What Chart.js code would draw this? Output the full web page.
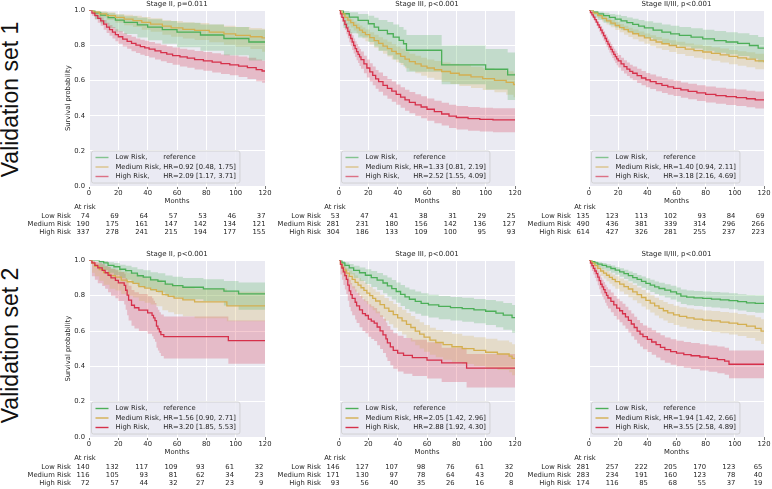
<!DOCTYPE html>
<html><head><meta charset="utf-8">
<script src="https://cdn.jsdelivr.net/npm/chart.js@4/dist/chart.umd.min.js"></script>
<style>
html,body{margin:0;padding:0;background:#fff;width:772px;height:489px;overflow:hidden;position:relative;}
canvas{position:absolute;}
.rowlab{position:absolute;width:220px;height:23px;line-height:23px;font-family:'Liberation Sans',Arial,sans-serif;font-size:23px;color:#111;text-align:center;transform:rotate(-90deg);white-space:nowrap;}
</style></head><body>
<div class="rowlab" style="left:-100.5px;top:87.5px">Validation set 1</div>
<div class="rowlab" style="left:-100.5px;top:333.5px">Validation set 2</div>
<canvas id="c1"></canvas><canvas id="c2"></canvas><canvas id="c3"></canvas>
<canvas id="c4"></canvas><canvas id="c5"></canvas><canvas id="c6"></canvas>
<script>
// ---------------- DATA ----------------
const tickMonths = [0, 20, 40, 60, 80, 100, 120];
const riskGroups = ['Low Risk', 'Medium Risk', 'High Risk'];
const panelTitles = ['Stage II, p=0.011', 'Stage III, p<0.001', 'Stage II/III, p<0.001',
                     'Stage II, p<0.001', 'Stage III, p<0.001', 'Stage II/III, p<0.001'];
const lowRef = 'reference';
const hrMedium = ['HR=0.92 [0.48, 1.75]', 'HR=1.33 [0.81, 2.19]', 'HR=1.40 [0.94, 2.11]',
                  'HR=1.56 [0.90, 2.71]', 'HR=2.05 [1.42, 2.96]', 'HR=1.94 [1.42, 2.66]'];
const hrHigh = ['HR=2.09 [1.17, 3.71]', 'HR=2.52 [1.55, 4.09]', 'HR=3.18 [2.16, 4.69]',
                'HR=3.20 [1.85, 5.53]', 'HR=2.88 [1.92, 4.30]', 'HR=3.55 [2.58, 4.89]'];

// at-risk counts [low, medium, high] at tickMonths
const atRisk1 = [[74,69,64,57,53,46,37],[190,175,161,147,142,134,121],[337,278,241,215,194,177,155]];
const atRisk2 = [[53,47,41,38,31,29,25],[281,231,180,156,142,136,127],[304,186,133,109,100,95,93]];
const atRisk3 = [[135,123,113,102,93,84,69],[490,436,381,339,314,296,266],[614,427,326,281,255,237,223]];
const atRisk4 = [[140,132,117,109,93,61,32],[116,105,93,81,62,34,23],[72,57,44,32,27,23,9]];
const atRisk5 = [[146,127,107,98,76,61,32],[171,130,97,78,64,43,20],[93,56,40,35,26,16,8]];
const atRisk6 = [[281,257,222,205,170,123,65],[283,234,191,160,123,78,40],[174,116,85,68,55,37,19]];

// Kaplan-Meier curves: [month, survival, lower CI, upper CI]
const km1Low = [[0,1,1,1],[4,0.986,0.95,0.998],[8,0.973,0.925,0.99],[13,0.959,0.9,0.984],[18,0.945,0.88,0.975],[24,0.932,0.865,0.967],[33,0.918,0.845,0.958],[40,0.905,0.83,0.95],[50,0.89,0.81,0.94],[60,0.876,0.79,0.93],[76,0.86,0.77,0.92],[92,0.84,0.745,0.905],[109,0.82,0.715,0.89],[120,0.82,0.715,0.89]];
const km1Med = [[0,1,1,1],[3,0.99,0.975,1],[7,0.98,0.96,0.995],[12,0.97,0.945,0.99],[18,0.96,0.93,0.98],[24,0.95,0.915,0.975],[30,0.942,0.905,0.97],[36,0.932,0.89,0.962],[42,0.922,0.878,0.955],[50,0.91,0.862,0.945],[56,0.9,0.85,0.94],[64,0.892,0.84,0.933],[72,0.886,0.832,0.928],[82,0.876,0.818,0.92],[92,0.866,0.805,0.912],[100,0.858,0.793,0.906],[110,0.85,0.78,0.9],[118,0.843,0.765,0.895],[120,0.843,0.765,0.895]];
const km1High = [[0,1,1,1],[2,0.985,0.97,0.995],[4,0.97,0.95,0.985],[6,0.955,0.93,0.972],[8,0.94,0.912,0.96],[10,0.922,0.89,0.945],[12,0.905,0.872,0.93],[14,0.89,0.855,0.917],[16,0.876,0.84,0.905],[18,0.862,0.824,0.892],[20,0.85,0.81,0.882],[23,0.836,0.795,0.87],[26,0.824,0.782,0.86],[29,0.812,0.768,0.85],[32,0.802,0.757,0.84],[35,0.794,0.748,0.833],[38,0.787,0.74,0.827],[41,0.78,0.732,0.82],[45,0.77,0.72,0.812],[49,0.76,0.71,0.804],[53,0.751,0.7,0.796],[57,0.743,0.69,0.789],[62,0.735,0.681,0.782],[67,0.728,0.673,0.776],[72,0.72,0.664,0.769],[78,0.713,0.656,0.763],[84,0.705,0.647,0.756],[90,0.697,0.638,0.749],[96,0.69,0.63,0.743],[102,0.683,0.621,0.737],[108,0.674,0.61,0.73],[114,0.663,0.597,0.72],[118,0.655,0.588,0.713],[120,0.655,0.588,0.713]];

const km2Low = [[0,1,1,1],[3,0.981,0.9,0.997],[7,0.962,0.87,0.99],[13,0.943,0.845,0.98],[20,0.924,0.82,0.97],[24,0.905,0.795,0.958],[27,0.886,0.77,0.946],[33,0.867,0.745,0.934],[37,0.848,0.72,0.92],[41,0.829,0.7,0.905],[44,0.81,0.68,0.89],[46,0.773,0.65,0.86],[70,0.69,0.58,0.8],[100,0.665,0.55,0.78],[115,0.633,0.49,0.76],[120,0.633,0.49,0.76]];
const km2Med = [[0,1,1,1],[2,0.98,0.965,0.99],[4,0.96,0.94,0.975],[6,0.945,0.92,0.962],[8,0.93,0.903,0.95],[10,0.915,0.885,0.937],[12,0.9,0.868,0.925],[14,0.888,0.854,0.914],[16,0.875,0.84,0.903],[18,0.862,0.825,0.891],[21,0.845,0.806,0.876],[24,0.828,0.787,0.861],[27,0.812,0.77,0.847],[30,0.797,0.753,0.834],[33,0.782,0.737,0.821],[36,0.767,0.72,0.807],[39,0.753,0.705,0.795],[42,0.738,0.689,0.781],[45,0.722,0.671,0.766],[48,0.708,0.656,0.753],[52,0.695,0.642,0.742],[56,0.683,0.628,0.731],[60,0.672,0.616,0.721],[65,0.662,0.605,0.712],[70,0.652,0.593,0.704],[76,0.642,0.581,0.696],[82,0.632,0.57,0.687],[90,0.622,0.558,0.679],[98,0.612,0.546,0.671],[106,0.602,0.534,0.663],[114,0.59,0.52,0.653],[119,0.578,0.505,0.643],[120,0.578,0.505,0.643]];
const km2High = [[0,1,1,1],[1,0.98,0.962,0.99],[2,0.96,0.936,0.975],[3,0.94,0.912,0.96],[4,0.92,0.888,0.944],[5,0.9,0.864,0.928],[6,0.88,0.841,0.911],[7,0.86,0.819,0.894],[8,0.84,0.797,0.876],[9,0.82,0.775,0.858],[10,0.8,0.754,0.84],[11,0.782,0.735,0.824],[12,0.765,0.716,0.808],[13,0.75,0.7,0.794],[14,0.735,0.684,0.78],[15,0.72,0.668,0.766],[17,0.695,0.642,0.742],[19,0.672,0.618,0.72],[21,0.65,0.595,0.699],[23,0.63,0.574,0.68],[25,0.61,0.554,0.661],[27,0.594,0.537,0.646],[30,0.573,0.515,0.626],[33,0.556,0.497,0.61],[36,0.54,0.48,0.595],[39,0.522,0.462,0.578],[42,0.506,0.445,0.563],[45,0.49,0.428,0.548],[48,0.476,0.414,0.535],[52,0.462,0.399,0.522],[56,0.45,0.386,0.511],[60,0.437,0.372,0.499],[65,0.423,0.357,0.486],[70,0.41,0.344,0.474],[75,0.398,0.331,0.462],[80,0.39,0.322,0.455],[88,0.384,0.315,0.45],[96,0.379,0.31,0.446],[105,0.376,0.306,0.443],[120,0.376,0.306,0.443]];

const km3Low = [[0,1,1,1],[3,0.99,0.96,0.998],[6,0.98,0.945,0.993],[10,0.97,0.93,0.987],[14,0.96,0.915,0.98],[18,0.95,0.903,0.975],[22,0.94,0.89,0.968],[26,0.93,0.878,0.96],[30,0.92,0.867,0.953],[34,0.91,0.855,0.946],[38,0.9,0.843,0.938],[44,0.888,0.83,0.93],[50,0.876,0.815,0.92],[56,0.866,0.803,0.912],[62,0.858,0.794,0.906],[70,0.848,0.783,0.898],[78,0.838,0.77,0.89],[86,0.828,0.759,0.882],[94,0.82,0.75,0.876],[102,0.812,0.74,0.87],[110,0.8,0.725,0.86],[116,0.785,0.705,0.848],[120,0.785,0.705,0.848]];
const km3Med = [[0,1,1,1],[3,0.985,0.975,0.992],[6,0.97,0.956,0.98],[9,0.955,0.937,0.968],[12,0.94,0.919,0.956],[15,0.927,0.904,0.945],[18,0.914,0.889,0.934],[21,0.902,0.875,0.923],[24,0.89,0.862,0.912],[27,0.878,0.848,0.901],[30,0.867,0.836,0.891],[34,0.855,0.823,0.88],[38,0.843,0.81,0.869],[42,0.831,0.797,0.858],[46,0.82,0.785,0.848],[50,0.81,0.774,0.839],[55,0.8,0.763,0.83],[60,0.79,0.752,0.821],[66,0.78,0.741,0.812],[72,0.771,0.731,0.804],[78,0.763,0.722,0.797],[84,0.755,0.713,0.79],[90,0.747,0.704,0.783],[96,0.738,0.694,0.775],[102,0.73,0.685,0.768],[108,0.722,0.676,0.761],[114,0.713,0.665,0.753],[120,0.705,0.655,0.746]];
const km3High = [[0,1,1,1],[1,0.988,0.98,0.994],[2,0.975,0.963,0.984],[3,0.962,0.947,0.973],[4,0.948,0.93,0.962],[5,0.933,0.913,0.95],[6,0.918,0.896,0.936],[7,0.903,0.879,0.923],[8,0.888,0.862,0.91],[9,0.872,0.845,0.896],[10,0.856,0.827,0.881],[11,0.84,0.81,0.866],[12,0.824,0.793,0.851],[13,0.808,0.776,0.836],[14,0.793,0.76,0.822],[15,0.778,0.744,0.808],[16,0.764,0.729,0.795],[17,0.75,0.715,0.782],[18,0.737,0.701,0.77],[19,0.724,0.688,0.758],[20,0.712,0.675,0.746],[22,0.695,0.657,0.73],[24,0.68,0.641,0.716],[26,0.666,0.627,0.703],[28,0.653,0.613,0.691],[30,0.642,0.602,0.681],[33,0.628,0.587,0.667],[36,0.615,0.574,0.655],[39,0.604,0.562,0.644],[42,0.594,0.552,0.635],[46,0.583,0.54,0.624],[50,0.573,0.53,0.615],[54,0.564,0.52,0.606],[58,0.556,0.512,0.599],[63,0.547,0.502,0.59],[68,0.539,0.494,0.583],[74,0.53,0.484,0.574],[80,0.522,0.475,0.566],[87,0.515,0.468,0.56],[94,0.509,0.461,0.554],[101,0.503,0.455,0.549],[108,0.497,0.448,0.543],[114,0.491,0.442,0.538],[120,0.488,0.438,0.535]];

const km4Low = [[0,1,1,1],[7,0.993,0.95,0.999],[10,0.986,0.945,0.996],[13,0.972,0.93,0.99],[17,0.964,0.918,0.985],[21,0.95,0.9,0.976],[25,0.942,0.89,0.97],[29,0.928,0.872,0.961],[33,0.913,0.855,0.95],[37,0.905,0.845,0.944],[42,0.89,0.828,0.933],[47,0.882,0.818,0.927],[52,0.866,0.8,0.914],[57,0.857,0.79,0.907],[64,0.848,0.78,0.9],[78,0.839,0.77,0.893],[92,0.826,0.745,0.883],[102,0.81,0.72,0.875],[120,0.81,0.72,0.875]];
const km4Med = [[0,1,1,1],[2,0.983,0.93,0.996],[4,0.966,0.91,0.988],[7,0.948,0.885,0.977],[10,0.931,0.862,0.966],[14,0.914,0.84,0.953],[18,0.905,0.83,0.948],[22,0.888,0.81,0.936],[26,0.879,0.8,0.93],[30,0.87,0.79,0.923],[34,0.852,0.77,0.91],[38,0.843,0.76,0.903],[42,0.834,0.75,0.896],[46,0.825,0.74,0.89],[50,0.806,0.718,0.873],[54,0.796,0.707,0.866],[58,0.786,0.695,0.857],[64,0.776,0.684,0.849],[72,0.765,0.672,0.84],[94,0.742,0.655,0.822],[120,0.742,0.655,0.822]];
const km4High = [[0,1,1,1],[2,0.986,0.91,0.998],[4,0.972,0.89,0.993],[6,0.958,0.87,0.986],[9,0.944,0.855,0.98],[11,0.93,0.84,0.97],[13,0.916,0.82,0.962],[15,0.901,0.8,0.953],[18,0.887,0.785,0.944],[20,0.873,0.77,0.935],[24,0.859,0.75,0.925],[25,0.831,0.72,0.9],[26,0.803,0.69,0.88],[27,0.775,0.66,0.857],[29,0.746,0.63,0.833],[31,0.732,0.615,0.82],[34,0.718,0.6,0.81],[40,0.703,0.585,0.797],[43,0.689,0.57,0.785],[44,0.674,0.555,0.772],[45,0.659,0.54,0.759],[46,0.628,0.505,0.735],[47,0.612,0.49,0.72],[48,0.596,0.475,0.707],[49,0.58,0.458,0.693],[51,0.568,0.445,0.683],[95,0.546,0.415,0.66],[120,0.546,0.415,0.66]];

const km5Low = [[0,1,1,1],[2,0.986,0.96,0.996],[4,0.972,0.94,0.988],[7,0.958,0.92,0.979],[10,0.944,0.9,0.97],[14,0.93,0.883,0.96],[18,0.916,0.866,0.95],[22,0.902,0.849,0.94],[26,0.888,0.832,0.929],[30,0.872,0.814,0.916],[33,0.856,0.796,0.903],[36,0.84,0.778,0.889],[39,0.824,0.76,0.875],[42,0.808,0.742,0.861],[45,0.793,0.725,0.847],[48,0.78,0.711,0.835],[52,0.768,0.698,0.824],[56,0.757,0.686,0.814],[61,0.748,0.676,0.806],[68,0.74,0.667,0.799],[76,0.733,0.659,0.793],[84,0.727,0.652,0.788],[92,0.72,0.644,0.782],[100,0.712,0.634,0.776],[107,0.702,0.622,0.768],[112,0.69,0.607,0.759],[118,0.676,0.59,0.748],[120,0.676,0.59,0.748]];
const km5Med = [[0,1,1,1],[1,0.98,0.955,0.992],[2,0.962,0.93,0.98],[3,0.945,0.908,0.968],[5,0.928,0.886,0.955],[7,0.91,0.864,0.941],[9,0.893,0.843,0.928],[11,0.876,0.822,0.914],[13,0.86,0.804,0.901],[15,0.845,0.786,0.888],[17,0.83,0.769,0.875],[19,0.815,0.752,0.862],[21,0.8,0.735,0.849],[23,0.785,0.718,0.836],[25,0.77,0.701,0.823],[28,0.75,0.679,0.805],[31,0.73,0.658,0.787],[34,0.712,0.638,0.77],[37,0.693,0.618,0.753],[40,0.675,0.599,0.736],[43,0.657,0.58,0.72],[46,0.638,0.56,0.702],[49,0.62,0.541,0.685],[52,0.6,0.52,0.667],[55,0.582,0.501,0.65],[58,0.565,0.483,0.634],[62,0.549,0.466,0.619],[66,0.535,0.451,0.606],[71,0.523,0.438,0.595],[77,0.511,0.425,0.584],[84,0.5,0.413,0.574],[92,0.49,0.402,0.565],[100,0.48,0.391,0.556],[108,0.47,0.38,0.547],[116,0.458,0.366,0.537],[118,0.445,0.35,0.525],[120,0.445,0.35,0.525]];
const km5High = [[0,1,1,1],[1,0.978,0.92,0.995],[2,0.957,0.89,0.984],[3,0.935,0.86,0.97],[4,0.914,0.835,0.955],[5,0.892,0.81,0.94],[6,0.86,0.772,0.915],[7,0.828,0.736,0.89],[8,0.806,0.712,0.872],[9,0.785,0.69,0.854],[11,0.763,0.666,0.835],[12,0.742,0.645,0.817],[14,0.72,0.622,0.798],[16,0.699,0.6,0.78],[18,0.688,0.588,0.77],[20,0.667,0.567,0.751],[22,0.656,0.555,0.741],[24,0.645,0.543,0.731],[26,0.623,0.52,0.711],[28,0.601,0.498,0.69],[30,0.578,0.475,0.67],[32,0.556,0.452,0.649],[33,0.533,0.43,0.628],[35,0.51,0.406,0.607],[37,0.49,0.386,0.588],[40,0.475,0.371,0.574],[44,0.462,0.358,0.561],[50,0.45,0.346,0.55],[60,0.435,0.331,0.536],[70,0.42,0.312,0.505],[87,0.39,0.28,0.47],[120,0.39,0.28,0.47]];

const km6Low = [[0,1,1,1],[2,0.993,0.98,0.998],[4,0.986,0.97,0.994],[6,0.979,0.96,0.99],[9,0.972,0.95,0.985],[12,0.963,0.94,0.978],[15,0.954,0.93,0.971],[18,0.945,0.919,0.963],[21,0.935,0.907,0.955],[24,0.925,0.895,0.947],[27,0.914,0.882,0.937],[30,0.903,0.87,0.928],[33,0.892,0.857,0.918],[36,0.881,0.845,0.909],[39,0.87,0.832,0.899],[42,0.86,0.821,0.89],[45,0.85,0.81,0.881],[48,0.841,0.8,0.873],[52,0.832,0.79,0.865],[56,0.822,0.779,0.856],[60,0.81,0.766,0.846],[63,0.798,0.753,0.835],[67,0.792,0.746,0.83],[72,0.788,0.742,0.827],[78,0.785,0.738,0.824],[84,0.781,0.734,0.821],[90,0.777,0.729,0.818],[96,0.772,0.723,0.814],[102,0.766,0.716,0.809],[108,0.76,0.708,0.804],[114,0.757,0.704,0.802],[120,0.757,0.704,0.802]];
const km6Med = [[0,1,1,1],[2,0.985,0.97,0.993],[4,0.97,0.95,0.983],[6,0.955,0.931,0.972],[8,0.94,0.912,0.96],[10,0.928,0.897,0.95],[12,0.916,0.882,0.94],[14,0.904,0.868,0.93],[16,0.892,0.854,0.92],[18,0.88,0.84,0.91],[21,0.866,0.824,0.898],[24,0.852,0.808,0.886],[27,0.838,0.792,0.874],[30,0.822,0.774,0.86],[33,0.806,0.757,0.846],[36,0.79,0.739,0.832],[39,0.774,0.722,0.817],[42,0.758,0.705,0.803],[45,0.742,0.688,0.789],[48,0.728,0.673,0.776],[51,0.715,0.659,0.764],[54,0.703,0.646,0.753],[58,0.692,0.634,0.743],[62,0.683,0.624,0.735],[67,0.675,0.615,0.728],[72,0.668,0.607,0.722],[78,0.662,0.6,0.717],[84,0.657,0.594,0.713],[90,0.651,0.587,0.708],[96,0.645,0.58,0.703],[102,0.638,0.572,0.697],[108,0.628,0.56,0.689],[114,0.615,0.545,0.678],[118,0.6,0.527,0.667],[120,0.6,0.527,0.667]];
const km6High = [[0,1,1,1],[1,0.985,0.96,0.995],[2,0.97,0.94,0.986],[3,0.955,0.92,0.975],[4,0.94,0.9,0.964],[5,0.925,0.882,0.953],[6,0.905,0.859,0.937],[7,0.885,0.836,0.92],[8,0.865,0.813,0.903],[9,0.85,0.796,0.89],[10,0.835,0.779,0.877],[11,0.818,0.76,0.862],[12,0.802,0.743,0.848],[13,0.787,0.727,0.835],[15,0.768,0.707,0.818],[17,0.748,0.685,0.8],[19,0.73,0.666,0.783],[21,0.715,0.65,0.769],[23,0.698,0.632,0.754],[25,0.68,0.613,0.737],[27,0.66,0.592,0.718],[29,0.64,0.571,0.7],[31,0.62,0.55,0.681],[33,0.6,0.53,0.662],[35,0.583,0.512,0.646],[37,0.568,0.497,0.632],[40,0.553,0.481,0.618],[43,0.538,0.466,0.604],[46,0.523,0.45,0.59],[49,0.508,0.435,0.576],[52,0.495,0.421,0.564],[56,0.483,0.409,0.553],[60,0.475,0.4,0.545],[65,0.467,0.392,0.538],[70,0.46,0.385,0.532],[76,0.453,0.377,0.525],[82,0.445,0.369,0.518],[88,0.438,0.361,0.512],[93,0.43,0.353,0.505],[96,0.412,0.333,0.49],[120,0.412,0.333,0.49]];

// ---------------- RENDER ----------------
const FONT = "'DejaVu Sans', sans-serif";
const FS = 6.8;
Chart.defaults.font.family = FONT;
Chart.defaults.font.size = FS;
Chart.defaults.color = '#262626';

const RGB = [[76,175,88],[212,175,80],[214,48,74]];
const rgba = (c, a) => `rgba(${c[0]},${c[1]},${c[2]},${a})`;

const panels = [
  {id:'c1', curves:[km1Low,km1Med,km1High], risk:atRisk1, col:0, row:0},
  {id:'c2', curves:[km2Low,km2Med,km2High], risk:atRisk2, col:1, row:0},
  {id:'c3', curves:[km3Low,km3Med,km3High], risk:atRisk3, col:2, row:0},
  {id:'c4', curves:[km4Low,km4Med,km4High], risk:atRisk4, col:0, row:1},
  {id:'c5', curves:[km5Low,km5Med,km5High], risk:atRisk5, col:1, row:1},
  {id:'c6', curves:[km6Low,km6Med,km6High], risk:atRisk6, col:2, row:1}
];
// canvas left, width, right padding; y-axis box is 69px wide
const YW = 69;
const colGeom = [{left:20,w:259,padR:14},{left:270,w:259,padR:14},{left:520,w:254,padR:10}];
const rowGeom = [{top:0,h:245,padB:39,legendAlpha:0.65},{top:250,h:239,padB:32,legendAlpha:1}];

function decorPlugin(pi, risk, legendAlpha) {
  return {
    id: 'decor' + pi,
    beforeDraw(chart) {
      const {ctx, chartArea: a} = chart;
      ctx.save();
      ctx.fillStyle = '#EAEAF2';
      ctx.fillRect(a.left, a.top, a.right - a.left, a.bottom - a.top);
      ctx.restore();
    },
    afterDraw(chart) {
      const {ctx, chartArea: a} = chart;
      const xs = chart.scales.x;
      ctx.save();
      ctx.font = FS + 'px ' + FONT;
      // legend
      const prefixW = ctx.measureText('Medium Risk, ').width;
      const rows = [[riskGroups[0] + ',', lowRef], [riskGroups[1] + ',', hrMedium[pi]], [riskGroups[2] + ',', hrHigh[pi]]];
      let sw = 0;
      rows.forEach(r => { sw = Math.max(sw, ctx.measureText(r[1]).width); });
      const bx = a.left + 2.5, by = a.bottom - 35, bh = 32, bw = 24 + prefixW + sw + 4;
      ctx.beginPath();
      ctx.roundRect(bx, by, bw, bh, 2);
      ctx.fillStyle = 'rgba(234,234,242,0.8)';
      ctx.fill();
      ctx.lineWidth = 0.8;
      ctx.strokeStyle = '#cccccc';
      ctx.stroke();
      rows.forEach((r, i) => {
        const y = by + 6.5 + i * 9.5;
        ctx.beginPath();
        ctx.moveTo(bx + 4, y); ctx.lineTo(bx + 17, y);
        ctx.strokeStyle = rgba(RGB[i], legendAlpha);
        ctx.lineWidth = 1.4;
        ctx.stroke();
        ctx.fillStyle = '#262626';
        ctx.textAlign = 'left'; ctx.textBaseline = 'middle';
        ctx.fillText(r[0], bx + 24, y);
        ctx.fillText(r[1], bx + 24 + prefixW, y);
      });
      // at-risk table
      const x0 = xs.getPixelForValue(tickMonths[0]);
      ctx.fillStyle = '#262626';
      ctx.textBaseline = 'middle';
      ctx.textAlign = 'center';
      ctx.fillText('At risk', x0 - 4, a.bottom + 21.5);
      riskGroups.forEach((g, i) => {
        ctx.textAlign = 'right';
        ctx.fillText(g, x0 - 18, a.bottom + 30.5 + i * 8);
      });
      tickMonths.forEach((t, j) => {
        const px = xs.getPixelForValue(t);
        let mw = 0;
        risk.forEach(r => { mw = Math.max(mw, ctx.measureText(String(r[j])).width); });
        const right = px - 6 + mw / 2;
        risk.forEach((r, i) => {
          ctx.textAlign = 'right';
          ctx.fillText(String(r[j]), right, a.bottom + 30.5 + i * 8);
        });
      });
      ctx.restore();
    }
  };
}

panels.forEach((p, pi) => {
  const cg = colGeom[p.col], rg = rowGeom[p.row];
  const cv = document.getElementById(p.id);
  cv.width = cg.w; cv.height = rg.h;
  cv.style.left = cg.left + 'px'; cv.style.top = rg.top + 'px';
  cv.style.width = cg.w + 'px'; cv.style.height = rg.h + 'px';
  const datasets = [];
  p.curves.forEach((c, ci) => {
    const pts = k => c.map(r => ({x: r[0], y: r[k]}));
    datasets.push({data: pts(2), borderColor: 'transparent', borderWidth: 0, pointRadius: 0, fill: false, stepped: true, order: 10});
    datasets.push({data: pts(3), borderColor: 'transparent', borderWidth: 0, pointRadius: 0, fill: '-1', backgroundColor: rgba(RGB[ci], 0.25), stepped: true, order: 10});
    datasets.push({label: riskGroups[ci], data: pts(1), borderColor: rgba(RGB[ci], 1), borderWidth: 1.3, pointRadius: 0, fill: false, stepped: true, order: 3 - ci});
  });
  new Chart(cv, {
    type: 'line',
    data: {datasets},
    options: {
      responsive: false, animation: false, devicePixelRatio: window.devicePixelRatio || 1,
      layout: {padding: {left: 0, top: 0, right: cg.padR, bottom: rg.padB}},
      plugins: {
        legend: {display: false}, tooltip: {enabled: false},
        filler: {drawTime: 'beforeDatasetsDraw'},
        title: {display: true, text: panelTitles[pi], fullSize: false, padding: {top: 0, bottom: 2}, font: {size: 7, weight: 'normal'}, color: '#262626'}
      },
      scales: {
        x: {
          type: 'linear', min: 0, max: 120,
          afterFit: s => { s.height = 20; },
          ticks: {stepSize: 20, autoSkip: false, maxRotation: 0, padding: 0, color: '#262626'},
          grid: {color: '#ffffff', lineWidth: 1, drawTicks: true, tickLength: 3, tickColor: '#555555', tickWidth: 0.8},
          border: {display: false},
          title: {display: true, text: 'Months', color: '#262626', font: {size: FS}, padding: {top: 0, bottom: 1}}
        },
        y: {
          type: 'linear', min: 0, max: 1,
          afterFit: s => { s.width = YW; },
          ticks: {display: p.col === 0, stepSize: 0.2, padding: 4, color: '#262626', callback: v => Number(v).toFixed(1)},
          grid: {color: '#ffffff', lineWidth: 1, drawTicks: false},
          border: {display: false},
          title: {display: p.col === 0, text: 'Survival probability', color: '#262626', font: {size: FS}, padding: {top: 44, bottom: 0}}
        }
      }
    },
    plugins: [decorPlugin(pi, p.risk, rg.legendAlpha)]
  });
});
</script>
</body></html>
